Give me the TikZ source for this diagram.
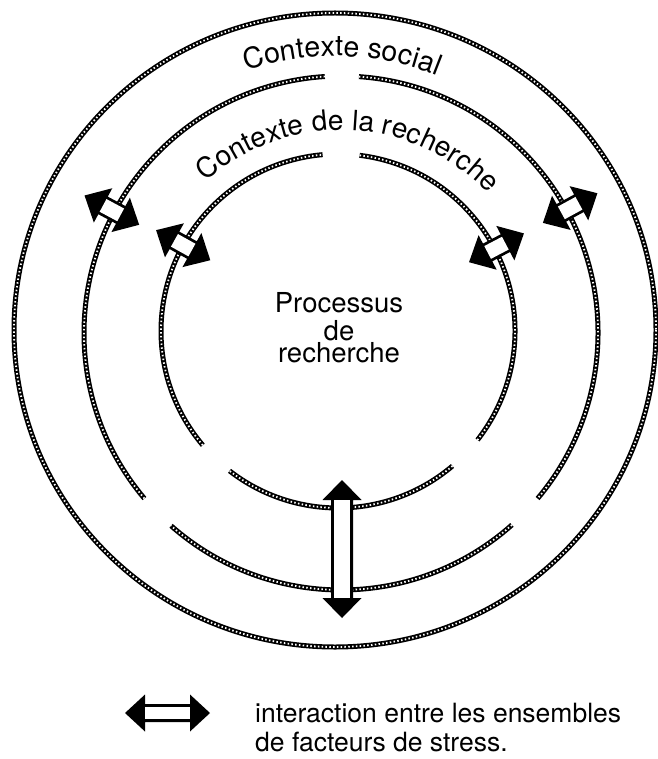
\documentclass[tikz,border=0pt]{standalone}
\usepackage{fontspec}
\setmainfont{TeX Gyre Heros}
\usetikzlibrary{decorations.text,calc}
\tikzset{
  bead/.style={draw=black, line width=5pt,
    postaction={draw=white, line width=1.8pt, dash pattern=on 1.5pt off 2.3pt}},
  lbl/.style={inner sep=0pt, font=\fontsize{27.5}{30}\selectfont},
  leg/.style={inner sep=0pt, anchor=base west, font=\fontsize{26.5}{30}\selectfont},
}
\newcommand\dblarrowsym[7]{%
  \begin{scope}[shift={(#1)}, rotate=#2]
    \fill[black] (-#3,0) -- (-#3+#4,#5) -- (-#3+#4,#6) -- (#3-#4,#6) -- (#3-#4,#5)
      -- (#3,0) -- (#3-#4,-#5) -- (#3-#4,-#6) -- (-#3+#4,-#6) -- (-#3+#4,-#5) -- cycle;
    \fill[white] (-#3+#4,-#6+#7) rectangle (#3-#4,#6-#7);
  \end{scope}}
\begin{document}
\begin{tikzpicture}[x=1pt,y=-1pt]
  \useasboundingbox (0,0) rectangle (657,759);
  \coordinate (cO) at (335,330);
  \coordinate (cM) at (341,333);
  \coordinate (cI) at (338,331);
  % outer ring
  \draw[bead] (cO) ellipse [x radius=321, y radius=317];
  % middle ring
  \draw[bead] ($(cM)+(-86:257)$) arc[start angle=-86, end angle=40.1, radius=257];
  \draw[bead] ($(cM)+(48.3:257)$) arc[start angle=48.3, end angle=131.4, radius=257];
  \draw[bead] ($(cM)+(139.9:257)$) arc[start angle=139.9, end angle=266.4, radius=257];
  % inner ring
  \draw[bead] ($(cI)+(-83:177)$) arc[start angle=-83, end angle=38, radius=177];
  \draw[bead] ($(cI)+(49.7:177)$) arc[start angle=49.7, end angle=127.8, radius=177];
  \draw[bead] ($(cI)+(139.8:177)$) arc[start angle=139.8, end angle=265, radius=177];
  % curved labels
  \path[decorate, decoration={text along path, text align=center,
      text={|\fontsize{28.5}{30}\selectfont|Contexte social}}]
    ($(cO)+(-138.5:274)$) arc[start angle=-138.5, end angle=-38.5, radius=274];
  \path[decorate, decoration={text along path, text align=center,
      text={|\fontsize{28}{30}\selectfont|Contexte de la recherche}}]
    ($(cM)+(-147.7:203)$) arc[start angle=-147.7, end angle=-27.7, radius=203];
  % centre label
  \node[lbl, anchor=base] (p1) at (339,312) {Processus};
  \node[lbl, anchor=base] (p2) at (339,340) {de};
  \node[lbl, anchor=base] (p3) at (339,362) {recherche};
  % interaction arrows
  \coordinate (aUL) at ($(cM)+(-151.8:260)$);
  \coordinate (aUR) at ($(cM)+(-28.6:261)$);
  \coordinate (bUL) at ($(cI)+(-151:177)$);
  \coordinate (bUR) at ($(cI)+(-27.7:179)$);
  \coordinate (vA) at (342,549);
  \dblarrowsym{aUL}{151.8}{31}{21}{19.5}{10}{2.8}
  \dblarrowsym{aUR}{28.6}{31}{21}{19.5}{10}{2.8}
  \dblarrowsym{bUL}{151}{31}{21}{19.5}{10}{2.8}
  \dblarrowsym{bUR}{27.7}{31}{21}{19.5}{10}{2.8}
  \dblarrowsym{vA}{90}{69}{20}{19.5}{11}{3}
  % legend
  \coordinate (lA) at (167.5,713);
  \dblarrowsym{lA}{0}{42.5}{20}{18.5}{9}{2.8}
  \node[leg] (l1) at (255,722) {interaction entre les ensembles};
  \node[leg] (l2) at (255,751) {de facteurs de stress.};
\end{tikzpicture}
\end{document}
